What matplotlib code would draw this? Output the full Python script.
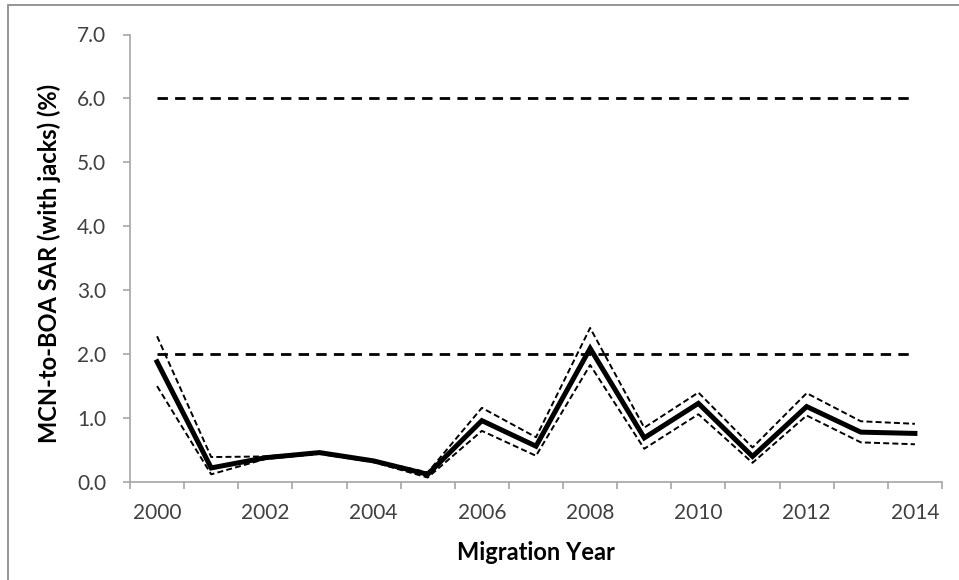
import matplotlib
matplotlib.use("Agg")
import matplotlib.pyplot as plt
from matplotlib.patches import Rectangle

# Migration years and SAR estimates (%), with 90% confidence bounds
years = list(range(2000, 2015))
sar = [1.88, 0.22, 0.38, 0.46, 0.33, 0.12, 0.96, 0.56, 2.09, 0.69, 1.23, 0.40, 1.18, 0.78, 0.76]
sar_upper = [2.28, 0.39, 0.40, 0.47, 0.34, 0.15, 1.16, 0.70, 2.41, 0.85, 1.40, 0.54, 1.39, 0.95, 0.91]
sar_lower = [1.50, 0.12, 0.36, 0.44, 0.31, 0.07, 0.80, 0.41, 1.83, 0.52, 1.06, 0.30, 1.04, 0.62, 0.59]

# NPCC SAR goal range (%)
goal_low = 2.0
goal_high = 6.0

y_ticks = [0, 1, 2, 3, 4, 5, 6, 7]
x_tick_labels = [str(y) if (y % 2 == 0) else "" for y in years]

plt.rcParams["font.family"] = ["Lato", "DejaVu Sans"]
plt.rcParams["lines.scale_dashes"] = False

W, H = 959, 580
fig = plt.figure(figsize=(W / 100, H / 100), dpi=100)
ax = fig.add_axes([130 / W, 1 - 482 / H, (942 - 130) / W, (482 - 34.5) / H])

x = list(range(len(years)))

# goal lines
ax.plot(x, [goal_high] * len(x), color="black", lw=2.0, dashes=(7.5, 5.2),
        dash_capstyle="butt")
ax.plot(x, [goal_low] * len(x), color="black", lw=2.0, dashes=(7.5, 5.2),
        dash_capstyle="butt")

# confidence bounds
ax.plot(x, sar_upper, color="black", lw=1.4, dashes=(4.3, 2.3))
ax.plot(x, sar_lower, color="black", lw=1.4, dashes=(4.3, 2.3))

# point estimate
ax.plot(x, sar, color="black", lw=3.6, solid_joinstyle="miter")

ax.set_xlim(-0.5, len(years) - 0.5)
ax.set_ylim(0, 7)

axis_gray = "#a6a6a6"
text_gray = "#404040"

ax.set_yticks(y_ticks)
ax.set_yticklabels([f"{v:.1f}" for v in y_ticks])
ax.set_xticks([i - 0.5 for i in range(len(years) + 1)])
ax.set_xticklabels([])
ax.set_xticks(x, minor=True)
ax.set_xticklabels(x_tick_labels, minor=True)

ax.tick_params(axis="x", which="major", length=5, width=1.2, color=axis_gray, direction="out")
ax.tick_params(axis="x", which="minor", length=0, pad=15, labelsize=15, labelcolor=text_gray)
ax.tick_params(axis="y", length=5, width=1.2, color=axis_gray, direction="out",
               pad=12, labelsize=15, labelcolor=text_gray)

for side in ("top", "right"):
    ax.spines[side].set_visible(False)
for side in ("left", "bottom"):
    ax.spines[side].set_color(axis_gray)
    ax.spines[side].set_linewidth(1.2)

ax.set_xlabel("Migration Year", fontsize=17, fontweight="bold", color="black")
ax.xaxis.set_label_coords(0.5, (482 - 541) / (482 - 34.5))
ax.xaxis.label.set_va("top")
ax.set_ylabel("MCN-to-BOA SAR (with jacks) (%)", fontsize=17, fontweight="bold",
              color="black")
ax.yaxis.set_label_coords((49 - 130) / (942 - 130), (482 - 263) / (482 - 34.5))
ax.yaxis.label.set_va("center")

# outer frame of the chart area
fig.patches.append(Rectangle((8 / W, -0.1), 1.2, 1 - 5 / H + 0.1, transform=fig.transFigure,
                             fill=False, edgecolor="#8c8c8c", lw=1.3))

fig.savefig("out.png", dpi=100)
